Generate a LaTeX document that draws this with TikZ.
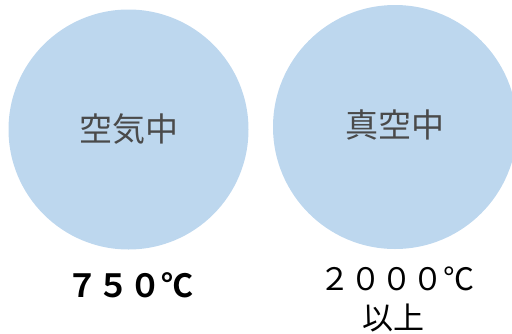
\documentclass[tikz,border=0pt]{standalone}
\usepackage{fontspec}
\newfontfamily\jp{Noto Sans CJK JP}
\newfontfamily\jpb{Noto Sans CJK JP Bold}
\definecolor{circfill}{HTML}{BDD7EE}
\definecolor{circtext}{HTML}{4A4A4A}
\begin{document}
\begin{tikzpicture}[x=1pt,y=-1pt,
  blob/.style={circle,fill=circfill,inner sep=0pt,minimum size=#1},
  intext/.style={font=\jp\fontsize{33}{36}\selectfont,text=circtext},
  templabel/.style={font=\jp\fontsize{31}{34}\selectfont,text=black,align=center,inner sep=0pt}]
\useasboundingbox (0,0) rectangle (512,333);
\clip (0,0) rectangle (512,333);
\node[blob=240pt] (air) at (128.5,129.5) {};
\node[blob=244pt] (vac) at (395,127) {};
\node[intext] (airt) at (air.center) {空気中};
\node[intext] (vact) at (395,125) {真空中};
\node[templabel,font=\jpb\fontsize{32}{34}\selectfont] (t1) at (130,285) {７５０℃};
\node[templabel] (t2) at (397,279) {２０００℃};
\node[templabel] (t3) at (393,318) {以上};
\end{tikzpicture}
\end{document}
